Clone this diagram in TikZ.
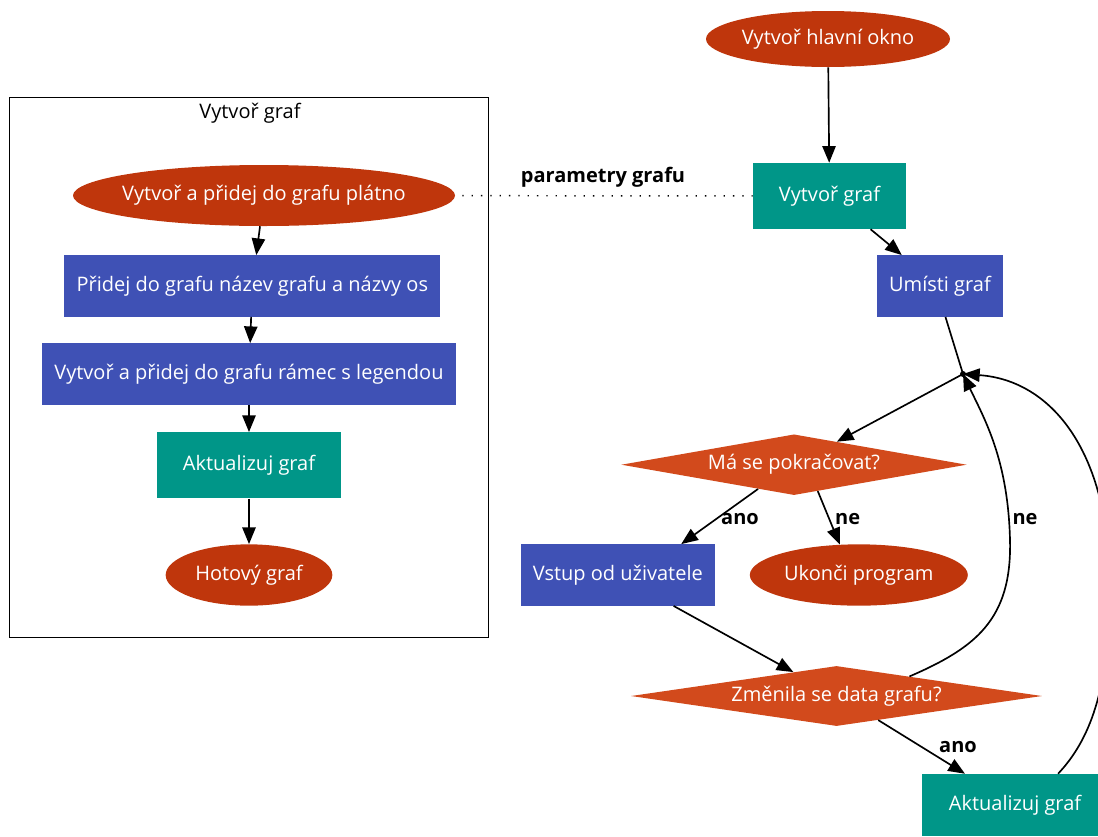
\documentclass[tikz,border=0pt]{standalone}
\usepackage{fontspec}
\setmainfont{Open Sans}
\usetikzlibrary{shapes.geometric,arrows.meta}
\definecolor{cred}{HTML}{BF360C}
\definecolor{corange}{HTML}{D24A1C}
\definecolor{cblue}{HTML}{3F51B5}
\definecolor{cteal}{HTML}{009688}
\begin{document}
\begin{tikzpicture}[x=0.75pt,y=-0.75pt,
  base/.style={inner sep=0pt, text=white, font=\fontsize{15}{18}\selectfont},
  ell/.style={base, ellipse, fill=cred, inner xsep=-6pt},
  bluebox/.style={base, rectangle, fill=cblue},
  tealbox/.style={base, rectangle, fill=cteal},
  dia/.style={base, diamond, aspect=6, fill=corange},
  edge/.style={draw=black, line width=1.25pt},
  arr/.style={edge, -{Triangle[length=12.5pt,width=10pt]}},
  lbl/.style={font=\bfseries\fontsize{15}{18}\selectfont, text=black, inner sep=0pt},
  clusterlbl/.style={font=\fontsize{15}{18}\selectfont, text=black, inner sep=0pt},
  param/.style={draw=black, line width=1.1pt, dash pattern=on 1pt off 6pt}
]
\useasboundingbox (0,0) rectangle (1098,836);

% cluster frame
\draw[line width=1pt] (9.5,97.5) rectangle (488.5,637.5);
\node[clusterlbl] (cl) at (250,113) {Vytvoř graf};

% left cluster nodes
\node[ell, minimum width=286.5pt, minimum height=45.75pt] (pl) at (264,195.5) {Vytvoř a přidej do grafu plátno};
\node[bluebox, minimum width=282pt, minimum height=46pt] (b1) at (252.3,286) {Přidej do grafu název grafu a názvy os};
\node[bluebox, minimum width=310.5pt, minimum height=46pt] (b2) at (249,374) {Vytvoř a přidej do grafu rámec s legendou};
\node[tealbox, minimum width=138pt, minimum height=49.5pt] (t1) at (249,465.3) {Aktualizuj graf};
\node[ell, minimum width=125pt, minimum height=46pt] (hg) at (249,575) {Hotový graf};

% right nodes
\node[ell, minimum width=183pt, minimum height=42pt] (main) at (828,39) {Vytvoř hlavní okno};
\node[tealbox, minimum width=114.75pt, minimum height=49.5pt] (vg) at (829.5,196) {Vytvoř graf};
\node[bluebox, minimum width=95pt, minimum height=46pt] (um) at (940,286) {Umísti graf};
\node[circle, fill=black, inner sep=0pt, minimum size=4.5pt] (j) at (963,374) {};
\node[dia, minimum width=259pt, minimum height=45.5pt] (d1) at (794,464.7) {Má se pokračovat?};
\node[bluebox, minimum width=145.5pt, minimum height=46pt] (vs) at (617.8,575) {Vstup od uživatele};
\node[ell, minimum width=163.5pt, minimum height=46pt] (uk) at (858.8,575) {Ukonči program};
\node[dia, minimum width=308.25pt, minimum height=45pt] (d2) at (836.5,696) {Změnila se data grafu?};
\node[tealbox, minimum width=139.5pt, minimum height=46.5pt] (ak) at (1015,805) {Aktualizuj graf};

% labels
\node[lbl] (lp) at (603,177) {parametry grafu};
\node[lbl] (la1) at (740,519) {ano};
\node[lbl] (ln1) at (847.7,519) {ne};
\node[lbl] (ln2) at (1025,519) {ne};
\node[lbl] (la2) at (958,747) {ano};

% left cluster edges
\draw[arr] (pl) -- (b1);
\draw[arr] (b1) -- (b2);
\draw[arr] (b2) -- (t1);
\draw[arr] (t1) -- (hg);

% dotted parameter link
\draw[param, shorten <=5.25pt] (pl) -- (vg);

% right edges
\draw[arr] (main) -- (vg);
\draw[arr] (vg.-39) -- (um.141);
\draw[edge] (um.-80) -- (j.center);
\draw[arr] (j.center) -- (d1);
\draw[arr] (d1.214) -- (vs.26);
\draw[arr] (d1.-48) -- (uk.122);
\draw[arr] (vs.-29) -- (d2.151);
\draw[arr] (d2.-30) -- (ak.148);
\draw[arr] (d2.15.6) .. controls (975,648) and (1012,620) .. (1010,540)
   .. controls (1008,460) and (985,420) .. (j.center);
\draw[arr] (ak.36.4) .. controls (1090,740) and (1108,690) .. (1110,600)
   .. controls (1113,450) and (1050,380) .. (j.center);
\end{tikzpicture}
\end{document}
